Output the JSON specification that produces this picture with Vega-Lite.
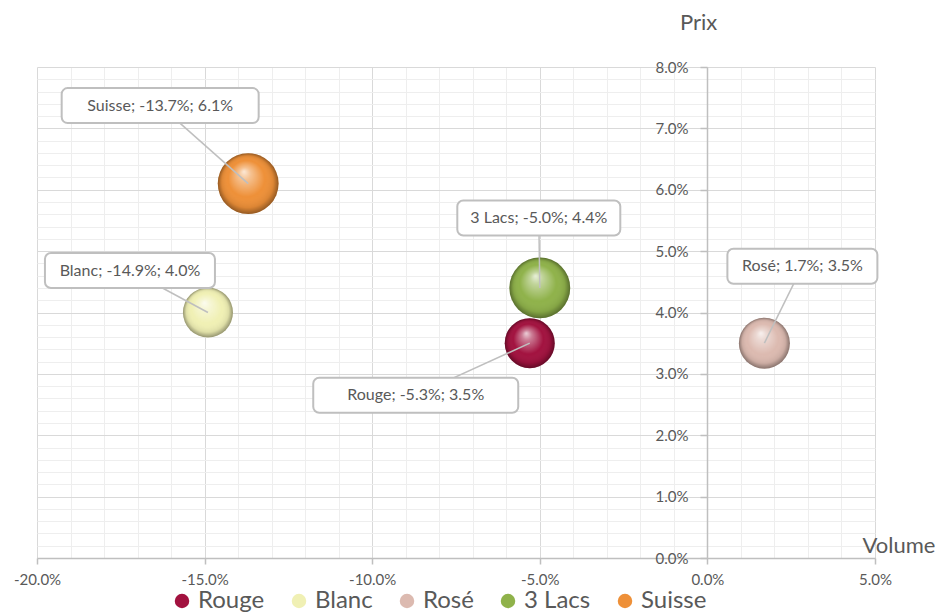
{
  "$schema": "https://vega.github.io/schema/vega-lite/v6.json",
  "width": 838,
  "height": 491,
  "autosize": {"type": "none"},
  "padding": {"left": 37, "top": 67, "right": 71, "bottom": 54},
  "background": "white",
  "config": {
    "view": {"stroke": null},
    "font": "Lato",
    "locale": {"number": {"decimal": ".", "thousands": ",", "grouping": [3], "currency": ["", ""], "minus": "-"}}
  },
  "data": {
    "values": [
      {"Serie": "Rouge", "Volume": -0.053, "Prix": 0.035, "Taille": 25},
      {"Serie": "Blanc", "Volume": -0.149, "Prix": 0.040, "Taille": 25},
      {"Serie": "Rosé", "Volume": 0.017, "Prix": 0.035, "Taille": 26},
      {"Serie": "3 Lacs", "Volume": -0.050, "Prix": 0.044, "Taille": 37},
      {"Serie": "Suisse", "Volume": -0.137, "Prix": 0.061, "Taille": 37}
    ]
  },
  "transform": [
    {"calculate": "datum.Serie + '; ' + format(datum.Volume, '.1%') + '; ' + format(datum.Prix, '.1%')", "as": "Etiquette"}
  ],
  "encoding": {
    "x": {
      "field": "Volume", "type": "quantitative",
      "scale": {"domain": [-0.2, 0.05], "nice": false, "zero": false},
      "axis": {
        "values": [-0.2, -0.19, -0.18, -0.17, -0.16, -0.15, -0.14, -0.13, -0.12, -0.11, -0.1, -0.09, -0.08, -0.07, -0.06, -0.05, -0.04, -0.03, -0.02, -0.01, 0, 0.01, 0.02, 0.03, 0.04, 0.05],
        "title": "Volume",
        "titleFont": "Lato", "titleFontSize": 22, "titleFontWeight": "normal", "titleColor": "#595959",
        "titleAngle": 0, "titleAlign": "left", "titleBaseline": "middle", "titleX": 825, "titleY": -13,
        "labelExpr": "abs(round(datum.value*100)) % 5 === 0 ? format(datum.value, '.1%') : ''",
        "labelFont": "Lato", "labelFontSize": 15, "labelColor": "#595959", "labelFlush": false, "labelOverlap": false, "labelPadding": 8,
        "domainColor": "#bfbfbf", "domainWidth": 1.5,
        "tickColor": "#bfbfbf", "tickSize": 6, "tickWidth": 1.5,
        "tickOpacity": {"condition": {"test": "abs(round(datum.value*100)) % 5 === 0", "value": 1}, "value": 0},
        "grid": true, "gridWidth": 1,
        "gridColor": {"condition": {"test": "abs(round(datum.value*100)) % 5 === 0", "value": "#d9d9d9"}, "value": "#eeeeee"}
      }
    },
    "y": {
      "field": "Prix", "type": "quantitative",
      "scale": {"domain": [0, 0.08], "nice": false},
      "axis": {
        "values": [0, 0.002, 0.004, 0.006, 0.008, 0.01, 0.012, 0.014, 0.016, 0.018, 0.02, 0.022, 0.024, 0.026, 0.028, 0.03, 0.032, 0.034, 0.036, 0.038, 0.04, 0.042, 0.044, 0.046, 0.048, 0.05, 0.052, 0.054, 0.056, 0.058, 0.06, 0.062, 0.064, 0.066, 0.068, 0.07, 0.072, 0.074, 0.076, 0.078, 0.08],
        "orient": "left", "offset": -670,
        "title": "Prix",
        "titleFont": "Lato", "titleFontSize": 22, "titleFontWeight": "normal", "titleColor": "#595959",
        "titleAngle": 0, "titleAlign": "center", "titleBaseline": "middle", "titleX": -9, "titleY": -45,
        "labelExpr": "round(datum.value*1000) % 10 === 0 ? format(datum.value, '.1%') : ''",
        "labelFont": "Lato", "labelFontSize": 15, "labelColor": "#595959", "labelOverlap": false, "labelPadding": 12, "labelFlush": false,
        "domainColor": "#bfbfbf", "domainWidth": 1.5,
        "tickColor": "#bfbfbf", "tickSize": 7, "tickWidth": 1.5,
        "tickOpacity": {"condition": {"test": "round(datum.value*1000) % 10 === 0", "value": 1}, "value": 0},
        "grid": true, "gridWidth": 1,
        "gridColor": {"condition": {"test": "round(datum.value*1000) % 10 === 0", "value": "#d9d9d9"}, "value": "#eeeeee"}
      }
    }
  },
  "layer": [
    {
      "mark": {"type": "circle", "opacity": 1},
      "encoding": {
        "color": {
          "field": "Serie", "type": "nominal",
          "scale": {"domain": ["Rouge", "Blanc", "Rosé", "3 Lacs", "Suisse"], "range": ["#a2123f", "#f0f0b4", "#dcbab0", "#8fb24a", "#ee9038"]},
          "legend": {
            "orient": "none", "legendX": 133, "legendY": 522, "direction": "horizontal", "title": null,
            "labelFont": "Lato", "labelFontSize": 24, "labelColor": "#595959", "labelOffset": 4,
            "symbolType": "circle", "symbolSize": 210, "symbolStrokeWidth": 0, "symbolOpacity": 1, "columnPadding": 22
          }
        },
        "size": {"field": "Taille", "type": "quantitative", "scale": {"domain": [0, 40], "range": [0, 4000]}, "legend": null}
      }
    },
    {
      "mark": {
        "type": "circle", "opacity": 1,
        "fill": {
          "gradient": "radial", "x1": 0.43, "y1": 0.3, "r1": 0, "x2": 0.5, "y2": 0.5, "r2": 0.5,
          "stops": [
            {"offset": 0, "color": "rgba(255,255,255,0.8)"},
            {"offset": 0.2, "color": "rgba(255,255,255,0.45)"},
            {"offset": 0.6, "color": "rgba(255,255,255,0)"},
            {"offset": 0.85, "color": "rgba(0,0,0,0.08)"},
            {"offset": 1, "color": "rgba(0,0,0,0.38)"}
          ]
        }
      },
      "encoding": {
        "size": {"field": "Taille", "type": "quantitative", "scale": {"domain": [0, 40], "range": [0, 4000]}, "legend": null}
      }
    },
    {
      "transform": [{"filter": "datum.Serie === 'Suisse'"}],
      "layer": [
        {"mark": {"type": "rule", "x2Offset": -88, "y2Offset": -78, "color": "#bfbfbf", "strokeWidth": 1.5}, "encoding": {"x2": {"field": "Volume"}, "y2": {"field": "Prix"}}},
        {"mark": {"type": "rect", "width": 197, "height": 35, "xOffset": -88, "yOffset": -78, "fill": "white", "stroke": "#bfbfbf", "strokeWidth": 2, "cornerRadius": 6}},
        {"mark": {"type": "text", "xOffset": -88, "yOffset": -78, "fontSize": 16, "font": "Lato", "color": "#595959"}, "encoding": {"text": {"field": "Etiquette"}}}
      ]
    },
    {
      "transform": [{"filter": "datum.Serie === 'Blanc'"}],
      "layer": [
        {"mark": {"type": "rule", "x2Offset": -78, "y2Offset": -42, "color": "#bfbfbf", "strokeWidth": 1.5}, "encoding": {"x2": {"field": "Volume"}, "y2": {"field": "Prix"}}},
        {"mark": {"type": "rect", "width": 170, "height": 35, "xOffset": -78, "yOffset": -42, "fill": "white", "stroke": "#bfbfbf", "strokeWidth": 2, "cornerRadius": 6}},
        {"mark": {"type": "text", "xOffset": -78, "yOffset": -42, "fontSize": 16, "font": "Lato", "color": "#595959"}, "encoding": {"text": {"field": "Etiquette"}}}
      ]
    },
    {
      "transform": [{"filter": "datum.Serie === '3 Lacs'"}],
      "layer": [
        {"mark": {"type": "rule", "x2Offset": -1, "y2Offset": -70, "color": "#bfbfbf", "strokeWidth": 1.5}, "encoding": {"x2": {"field": "Volume"}, "y2": {"field": "Prix"}}},
        {"mark": {"type": "rect", "width": 163, "height": 35, "xOffset": -1, "yOffset": -70, "fill": "white", "stroke": "#bfbfbf", "strokeWidth": 2, "cornerRadius": 6}},
        {"mark": {"type": "text", "xOffset": -1, "yOffset": -70, "fontSize": 16, "font": "Lato", "color": "#595959"}, "encoding": {"text": {"field": "Etiquette"}}}
      ]
    },
    {
      "transform": [{"filter": "datum.Serie === 'Rouge'"}],
      "layer": [
        {"mark": {"type": "rule", "x2Offset": -114, "y2Offset": 52, "color": "#bfbfbf", "strokeWidth": 1.5}, "encoding": {"x2": {"field": "Volume"}, "y2": {"field": "Prix"}}},
        {"mark": {"type": "rect", "width": 205, "height": 35, "xOffset": -114, "yOffset": 52, "fill": "white", "stroke": "#bfbfbf", "strokeWidth": 2, "cornerRadius": 6}},
        {"mark": {"type": "text", "xOffset": -114, "yOffset": 52, "fontSize": 16, "font": "Lato", "color": "#595959"}, "encoding": {"text": {"field": "Etiquette"}}}
      ]
    },
    {
      "transform": [{"filter": "datum.Serie === 'Rosé'"}],
      "layer": [
        {"mark": {"type": "rule", "x2Offset": 38, "y2Offset": -77, "color": "#bfbfbf", "strokeWidth": 1.5}, "encoding": {"x2": {"field": "Volume"}, "y2": {"field": "Prix"}}},
        {"mark": {"type": "rect", "width": 150, "height": 35, "xOffset": 38, "yOffset": -77, "fill": "white", "stroke": "#bfbfbf", "strokeWidth": 2, "cornerRadius": 6}},
        {"mark": {"type": "text", "xOffset": 38, "yOffset": -77, "fontSize": 16, "font": "Lato", "color": "#595959"}, "encoding": {"text": {"field": "Etiquette"}}}
      ]
    }
  ]
}
